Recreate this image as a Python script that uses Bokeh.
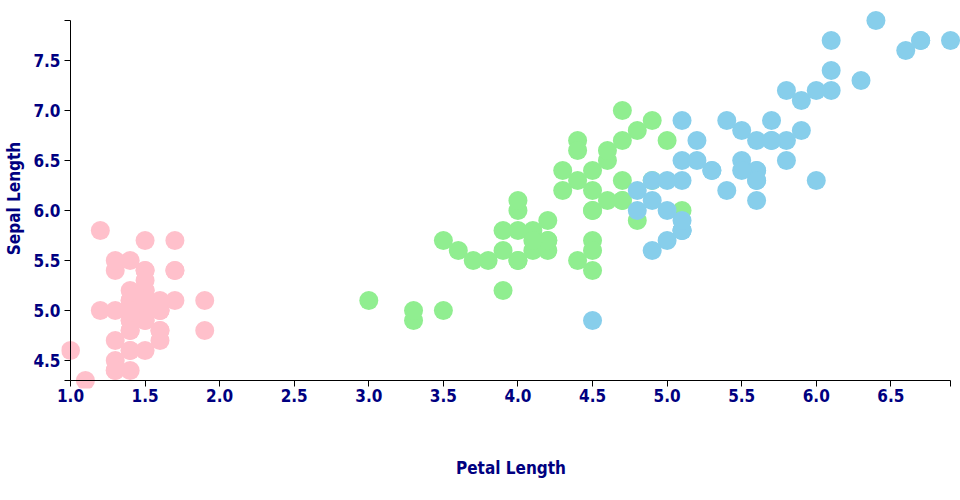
from bokeh.plotting import figure
from bokeh.models import FixedTicker, NumeralTickFormatter, LinearAxis
from bokeh.embed import file_html
from bokeh.resources import INLINE

# Iris data: petal length (x) vs sepal length (y)
setosa_petal = [1.4,1.4,1.3,1.5,1.4,1.7,1.4,1.5,1.4,1.5,1.5,1.6,1.4,1.1,1.2,1.5,1.3,1.4,1.7,1.5,
                1.7,1.5,1.0,1.7,1.9,1.6,1.6,1.5,1.4,1.6,1.6,1.5,1.5,1.4,1.5,1.2,1.3,1.4,1.3,1.5,
                1.3,1.3,1.3,1.6,1.9,1.4,1.6,1.4,1.5,1.4]
setosa_sepal = [5.1,4.9,4.7,4.6,5.0,5.4,4.6,5.0,4.4,4.9,5.4,4.8,4.8,4.3,5.8,5.7,5.4,5.1,5.7,5.1,
                5.4,5.1,4.6,5.1,4.8,5.0,5.0,5.2,5.2,4.7,4.8,5.4,5.2,5.5,4.9,5.0,5.5,4.9,4.4,5.1,
                5.0,4.5,4.4,5.0,5.1,4.8,5.1,4.6,5.3,5.0]
versicolor_petal = [4.7,4.5,4.9,4.0,4.6,4.5,4.7,3.3,4.6,3.9,3.5,4.2,4.0,4.7,3.6,4.4,4.5,4.1,4.5,3.9,
                    4.8,4.0,4.9,4.7,4.3,4.4,4.8,5.0,4.5,3.5,3.8,3.7,3.9,5.1,4.5,4.5,4.7,4.4,4.1,4.0,
                    4.4,4.6,4.0,3.3,4.2,4.2,4.2,4.3,3.0,4.1]
versicolor_sepal = [7.0,6.4,6.9,5.5,6.5,5.7,6.3,4.9,6.6,5.2,5.0,5.9,6.0,6.1,5.6,6.7,5.6,5.8,6.2,5.6,
                    5.9,6.1,6.3,6.1,6.4,6.6,6.8,6.7,6.0,5.7,5.5,5.5,5.8,6.0,5.4,6.0,6.7,6.3,5.6,5.5,
                    5.5,6.1,5.8,5.0,5.6,5.7,5.7,6.2,5.1,5.7]
virginica_petal = [6.0,5.1,5.9,5.6,5.8,6.6,4.5,6.3,5.8,6.1,5.1,5.3,5.5,5.0,5.1,5.3,5.5,6.7,6.9,5.0,
                   5.7,4.9,6.7,4.9,5.7,6.0,4.8,4.9,5.6,5.8,6.1,6.4,5.6,5.1,5.6,6.1,5.6,5.5,4.8,5.4,
                   5.6,5.1,5.1,5.9,5.7,5.2,5.0,5.2,5.4,5.1]
virginica_sepal = [6.3,5.8,7.1,6.3,6.5,7.6,4.9,7.3,6.7,7.2,6.5,6.4,6.8,5.7,5.8,6.4,6.5,7.7,7.7,6.0,
                   6.9,5.6,7.7,6.3,6.7,7.2,6.2,6.1,6.4,7.2,7.4,7.9,6.4,6.3,6.1,7.7,6.3,6.4,6.0,6.9,
                   6.7,6.9,5.8,6.8,6.7,6.7,6.3,6.5,6.2,5.9]

x_ticks = [1.0,1.5,2.0,2.5,3.0,3.5,4.0,4.5,5.0,5.5,6.0,6.5]
y_ticks = [4.5,5.0,5.5,6.0,6.5,7.0,7.5]
x_min, x_max = 1.0, 6.9
y_min, y_max = 4.3, 7.9
x_label = "Petal Length"
y_label = "Sepal Length"

FONT = "DejaVu Sans Condensed"
NAVY = "#000080"

# the plotting area extends a little past the axis lines so the edge circles are not cut
p = figure(width=960, height=492,
           x_range=(x_min - 0.0603, x_max + 0.067), y_range=(y_min - 0.08, y_max + 0.12),
           output_backend="svg", toolbar_location=None,
           min_border_left=61, min_border_right=0, min_border_top=8, min_border_bottom=104)
p.outline_line_color = None
p.grid.visible = False
p.background_fill_color = "white"
p.border_fill_color = "white"

for xs, ys, col in [(setosa_petal, setosa_sepal, "pink"),
                    (versicolor_petal, versicolor_sepal, "lightgreen"),
                    (virginica_petal, virginica_sepal, "skyblue")]:
    p.scatter(xs, ys, size=19, fill_color=col, line_color=None)

# standard axes at the plot edge: tick labels and axis titles only
p.xaxis.ticker = FixedTicker(ticks=x_ticks)
p.yaxis.ticker = FixedTicker(ticks=y_ticks)
for ax in (p.xaxis, p.yaxis):
    ax.formatter = NumeralTickFormatter(format="0.0")
    ax.axis_line_color = None
    ax.major_tick_line_color = None
    ax.minor_tick_line_color = None
    ax.major_tick_in = 0
    ax.major_tick_out = 0
    ax.major_label_text_font = FONT
    ax.major_label_text_font_style = "bold"
    ax.major_label_text_font_size = "17px"
    ax.major_label_text_color = NAVY
    ax.axis_label_text_font = FONT
    ax.axis_label_text_font_style = "bold"
    ax.axis_label_text_font_size = "17px"
    ax.axis_label_text_color = NAVY
p.xaxis.axis_label = x_label
p.yaxis.axis_label = y_label
p.xaxis.major_label_standoff = 0
p.yaxis.major_label_standoff = 1
p.xaxis.axis_label_standoff = 53
p.yaxis.axis_label_standoff = 6

# axis lines with ticks at the data minimum, d3-style outer ticks at both ends
line_x = LinearAxis(fixed_location=y_min, bounds=(x_min, x_max),
                    ticker=FixedTicker(ticks=x_ticks + [x_max]))
line_y = LinearAxis(fixed_location=x_min, bounds=(y_min, y_max),
                    ticker=FixedTicker(ticks=[y_min] + y_ticks + [y_max]))
for ax in (line_x, line_y):
    ax.major_tick_in = 0
    ax.major_tick_out = 6
    ax.minor_tick_line_color = None
    ax.axis_line_color = "black"
    ax.major_tick_line_color = "black"
    ax.major_label_text_color = None
p.add_layout(line_x, "below")
p.add_layout(line_y, "left")

open("out.html", "w").write(file_html(p, INLINE))
